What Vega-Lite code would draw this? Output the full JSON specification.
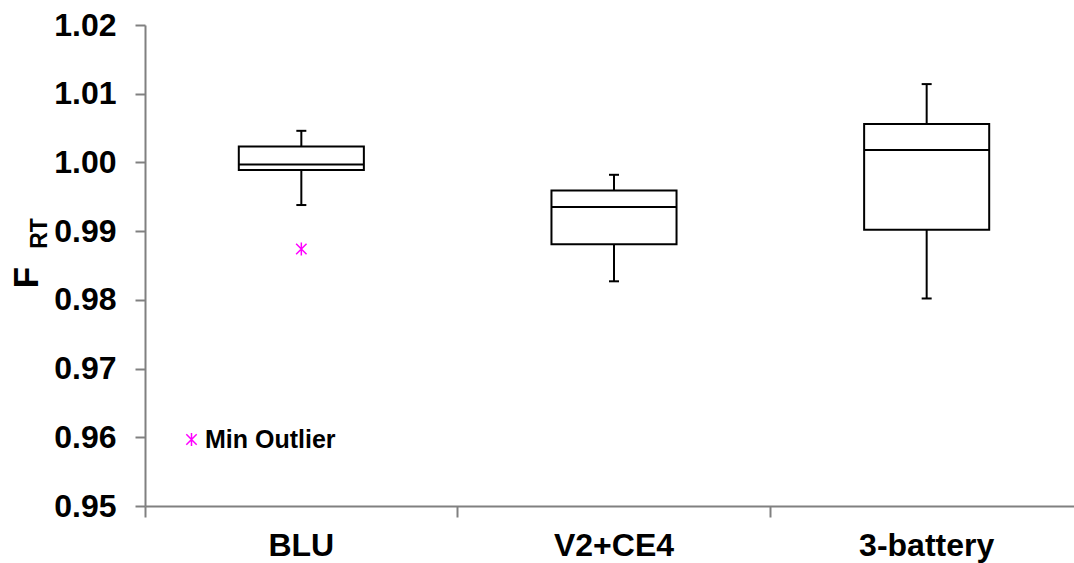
{
  "$schema": "https://vega.github.io/schema/vega-lite/v6.json",
  "autosize": {"type": "none"},
  "width": 929,
  "height": 481,
  "padding": {"left": 145, "top": 25, "right": 0, "bottom": 57},
  "background": "white",
  "config": {"view": {"stroke": null}},
  "datasets": {
    "stats": [
      {"group": "BLU", "min": 0.9938, "q1": 0.9989, "median": 0.9997, "q3": 1.0023, "max": 1.0046},
      {"group": "V2+CE4", "min": 0.9827, "q1": 0.9881, "median": 0.9935, "q3": 0.9959, "max": 0.9982},
      {"group": "3-battery", "min": 0.9802, "q1": 0.9902, "median": 1.0018, "q3": 1.0056, "max": 1.0114}
    ],
    "outliers": [
      {"group": "BLU", "value": 0.9874, "type": "Min Outlier"}
    ]
  },
  "layer": [
    {
      "data": {"name": "stats"},
      "layer": [
        {
          "mark": {"type": "rule", "color": "black", "strokeWidth": 2},
          "encoding": {
            "x": {
              "field": "group", "type": "nominal", "sort": ["BLU", "V2+CE4", "3-battery"],
              "scale": {"range": [0, 938], "paddingInner": 0, "paddingOuter": 0},
              "axis": {
                "title": null, "orient": "bottom", "grid": false,
                "domainColor": "#808080", "domainWidth": 2,
                "tickColor": "#808080", "tickWidth": 2, "tickSize": 11,
                "bandPosition": 0,
                "labelAngle": 0, "labelFont": "Liberation Sans", "labelFontWeight": "bold",
                "labelFontSize": 32, "labelColor": "black", "labelPadding": 13
              }
            },
            "y": {
              "field": "min", "type": "quantitative", "title": "F",
              "scale": {"domain": [0.95, 1.02], "nice": false, "zero": false},
              "axis": {
                "orient": "left", "grid": false,
                "values": [0.95, 0.96, 0.97, 0.98, 0.99, 1.0, 1.01, 1.02],
                "format": ".2f",
                "domainColor": "#808080", "domainWidth": 2,
                "tickColor": "#808080", "tickWidth": 2, "tickSize": 10,
                "labelFont": "Liberation Sans", "labelFontWeight": "bold",
                "labelFontSize": 32, "labelColor": "black", "labelPadding": 19,
                "titleFont": "Liberation Sans", "titleFontWeight": "bold", "titleFontSize": 35,
                "titleColor": "black", "titleAngle": -90, "titleAlign": "center", "titleBaseline": "middle",
                "titleX": -119, "titleY": 252
              }
            },
            "y2": {"field": "max"}
          }
        },
        {
          "mark": {"type": "tick", "color": "black", "size": 10, "thickness": 2, "opacity": 1},
          "encoding": {
            "x": {"field": "group", "type": "nominal", "sort": ["BLU", "V2+CE4", "3-battery"]},
            "y": {"field": "min", "type": "quantitative", "title": "F"}
          }
        },
        {
          "mark": {"type": "tick", "color": "black", "size": 10, "thickness": 2, "opacity": 1},
          "encoding": {
            "x": {"field": "group", "type": "nominal", "sort": ["BLU", "V2+CE4", "3-battery"]},
            "y": {"field": "max", "type": "quantitative", "title": "F"}
          }
        },
        {
          "mark": {"type": "bar", "fill": "white", "stroke": "black", "strokeWidth": 2, "width": {"band": 0.4}},
          "encoding": {
            "x": {"field": "group", "type": "nominal", "sort": ["BLU", "V2+CE4", "3-battery"]},
            "y": {"field": "q1", "type": "quantitative", "title": "F"},
            "y2": {"field": "q3"}
          }
        },
        {
          "mark": {"type": "tick", "color": "black", "size": 125, "thickness": 2, "opacity": 1},
          "encoding": {
            "x": {"field": "group", "type": "nominal", "sort": ["BLU", "V2+CE4", "3-battery"]},
            "y": {"field": "median", "type": "quantitative", "title": "F"}
          }
        }
      ]
    },
    {
      "data": {"name": "outliers"},
      "mark": {"type": "point", "filled": false, "stroke": "#FF00FF", "strokeWidth": 1.5, "opacity": 1},
      "encoding": {
        "x": {"field": "group", "type": "nominal", "sort": ["BLU", "V2+CE4", "3-battery"]},
        "y": {
          "field": "value", "type": "quantitative", "title": "RT",
          "axis": {
            "orient": "left", "labels": false, "ticks": false, "domain": false, "grid": false,
            "titleFont": "Liberation Sans", "titleFontWeight": "bold", "titleFontSize": 23,
            "titleColor": "black", "titleAngle": -90, "titleAlign": "center", "titleBaseline": "middle",
            "titleX": -106, "titleY": 208
          }
        },
        "shape": {
          "field": "type", "type": "nominal",
          "scale": {"range": ["M-0.8,-0.8L0.8,0.8M-0.8,0.8L0.8,-0.8M0,-1L0,1"]},
          "legend": {
            "title": null, "orient": "none", "legendX": 34, "legendY": 402, "padding": 0,
            "symbolSize": 169, "symbolStrokeColor": "#FF00FF", "symbolStrokeWidth": 1.5,
            "symbolFillColor": "transparent", "symbolOpacity": 1,
            "labelFont": "Liberation Sans", "labelFontWeight": "bold", "labelFontSize": 25,
            "labelColor": "black", "labelOffset": 1
          }
        },
        "size": {"value": 169}
      }
    }
  ],
  "resolve": {"axis": {"y": "independent"}}
}
